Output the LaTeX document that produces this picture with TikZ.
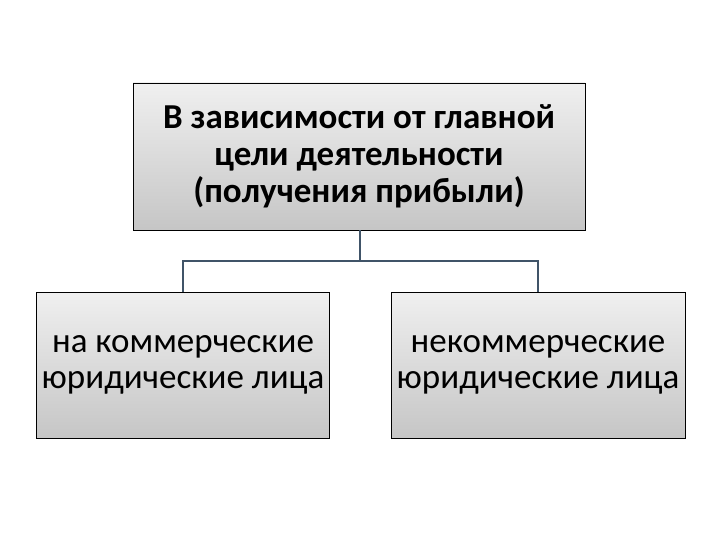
\documentclass[tikz,border=0pt]{standalone}
\usepackage{fontspec}
\setmainfont{Carlito}
\definecolor{connc}{HTML}{405468}
\begin{document}
\begin{tikzpicture}[x=1pt,y=-1pt,
  box/.style={draw=black, line width=0.8pt, top color=gray!12, bottom color=gray!45, inner sep=0pt, align=center},
  conn/.style={draw=connc, line width=1.8pt}]
\useasboundingbox (0,0) rectangle (720,540);
\fill[white] (0,0) rectangle (720,540);
\node[box, minimum width=452pt, minimum height=147pt, font=\bfseries\fontsize{35}{37}\selectfont] (top) at (359,156.5)
  {В зависимости от главной\\цели деятельности\\(получения прибыли)};
\node[box, minimum width=293pt, minimum height=146pt, font=\fontsize{35}{36}\selectfont] (left) at (183,365)
  {на коммерческие\\юридические лица};
\node[box, minimum width=294pt, minimum height=146pt, font=\fontsize{35}{36}\selectfont] (right) at (538,365)
  {некоммерческие\\юридические лица};
\coordinate (mid) at (360,261);
\draw[conn] (top.south -| mid) -- (mid);
\draw[conn] (left.north) |- (mid) -| (right.north);
\end{tikzpicture}
\end{document}
